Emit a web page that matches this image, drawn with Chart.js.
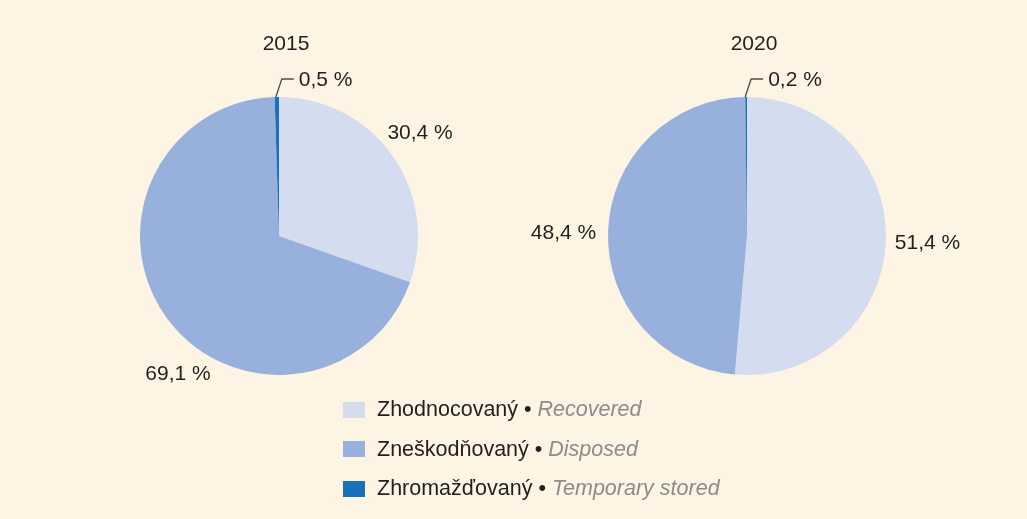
<!DOCTYPE html>
<html>
<head>
<meta charset="utf-8">
<script src="https://cdn.jsdelivr.net/npm/chart.js@4.4.1/dist/chart.umd.min.js"></script>
<style>
  body { margin: 0; background: #fdf4e3; font-family: "Liberation Sans", Arial, sans-serif; }
  #wrap { position: relative; width: 1027px; height: 519px; overflow: hidden; }
  canvas { position: absolute; top: 0; }
  #legend { position: absolute; left: 343px; top: 390px; }
  .row { display: flex; align-items: center; height: 39.5px; font-size: 21.5px; color: #231f20; }
  .sw { width: 22px; height: 16px; margin-right: 12px; }
  .en { font-style: italic; color: #8c8c8c; }
</style>
</head>
<body>
<div id="wrap">
  <canvas id="Pie2015" width="513" height="400" style="left:0px"></canvas>
  <canvas id="Pie2020" width="514" height="400" style="left:513px"></canvas>
  <div id="legend"></div>
</div>
<script>
const years = ['2015', '2020'];
const labelsSk = ['Zhodnocovaný', 'Zneškodňovaný', 'Zhromažďovaný'];
const labelsEn = ['Recovered', 'Disposed', 'Temporary stored'];
const values2015 = [30.4, 69.1, 0.5];
const values2020 = [51.4, 48.4, 0.2];
const colors = ['#d4ddf0', '#98b0dc', '#1a70bb'];

// legend
let legendHtml = '';
labelsSk.forEach(function (sk, i) {
    legendHtml += '<div class="row"><div class="sw" style="background:' + colors[i] + '"></div>' +
        sk + '&nbsp;•&nbsp;<span class="en">' + labelsEn[i] + '</span></div>';
});
document.getElementById('legend').innerHTML = legendHtml;

function fmt(v) {
    return v.toFixed(1).replace('.', ',') + ' %';
}

// draws the title and the percentages round the pie
const pieLabels = {
    id: 'pieLabels',
    afterDraw(chart, args, opts) {
        const ctx = chart.ctx;
        const arcs = chart.getDatasetMeta(0).data;
        const vals = chart.data.datasets[0].data;
        ctx.save();
        ctx.font = '21px "Liberation Sans", Arial, sans-serif';
        ctx.fillStyle = '#231f20';
        ctx.textBaseline = 'middle';
        ctx.textAlign = 'center';
        ctx.fillText(opts.title, arcs[0].x + 7, 44);

        arcs.forEach(function (arc, i) {
            const mid = (arc.startAngle + arc.endAngle) / 2;
            const r = arc.outerRadius;
            if (vals[i] < 2) {
                const x0 = arc.x + Math.cos(mid) * r;
                const y0 = arc.y + Math.sin(mid) * r;
                ctx.strokeStyle = '#4d4d4d';
                ctx.lineWidth = 1.3;
                ctx.beginPath();
                ctx.moveTo(x0 - 1, y0);
                ctx.lineTo(x0 + 5, y0 - 18);
                ctx.lineTo(x0 + 17, y0 - 18);
                ctx.stroke();
                ctx.textAlign = 'left';
                ctx.fillText(fmt(vals[i]), x0 + 22, y0 - 17);
                return;
            }
            const place = opts.place[i];
            const a = mid + place[0] * Math.PI / 180;
            ctx.textAlign = 'center';
            ctx.fillText(fmt(vals[i]), arc.x + Math.cos(a) * r * place[1], arc.y + Math.sin(a) * r * place[1]);
        });
        ctx.restore();
    }
};

function makePie(id, values, year, padding, place) {
    return new Chart(document.getElementById(id).getContext('2d'), {
        type: 'pie',
        data: {
            labels: labelsSk,
            datasets: [{
                data: values,
                backgroundColor: colors,
                borderWidth: 0
            }]
        },
        options: {
            responsive: false,
            animation: false,
            layout: { padding: padding },
            plugins: {
                legend: { display: false },
                tooltip: { enabled: false },
                pieLabels: { title: year, place: place }
            }
        },
        plugins: [pieLabels]
    });
}

makePie('Pie2015', values2015, years[0],
    { left: 140, top: 97, right: 95, bottom: 25 },
    [[-0.8, 1.256], [-17.6, 1.23]]);
makePie('Pie2020', values2020, years[1],
    { left: 95, top: 97, right: 141, bottom: 25 },
    [[-0.3, 1.30], [-1.4, 1.32]]);
</script>
</body>
</html>
